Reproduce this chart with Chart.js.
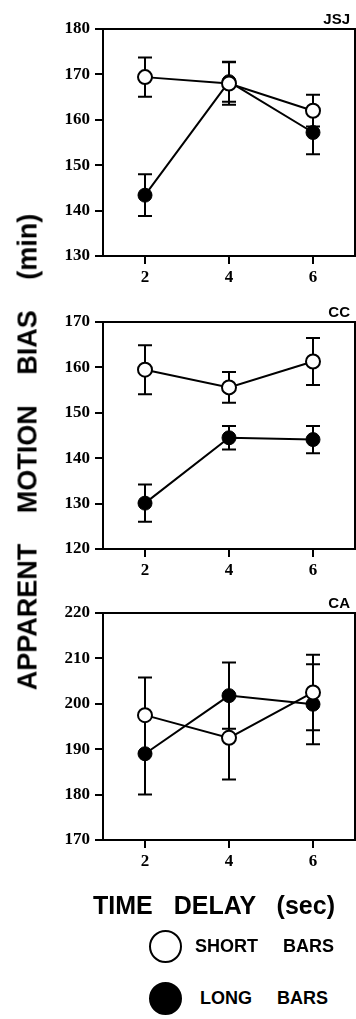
<!DOCTYPE html>
<html lang="en">
<head>
<meta charset="UTF-8" />
<title>Apparent motion bias vs time delay</title>
<script src="https://cdn.jsdelivr.net/npm/chart.js"></script>
<style>
    body { margin: 0; background: #fff; }
    #page { position: relative; width: 356px; height: 1019px; overflow: hidden; font-family: 'Liberation Sans', Arial, sans-serif; }
    .panel { position: absolute; left: 0; width: 356px; height: 300px; }
    #yTitle { position: absolute; left: 28px; top: 452px; transform: translate(-50%, -50%) rotate(-90deg);
              white-space: nowrap; font-weight: bold; font-size: 27px; word-spacing: 23px; color: #000; }
    #xTitle { position: absolute; left: 214px; top: 905px; transform: translate(-50%, -50%);
              white-space: nowrap; font-weight: bold; font-size: 25px; word-spacing: 14px; color: #000; }
    .key { position: absolute; left: 149px; height: 34px; display: flex; align-items: center;
           font-weight: bold; font-size: 18px; word-spacing: 20px; white-space: nowrap; }
    .dot { width: 29px; height: 29px; border: 2.5px solid #000; border-radius: 50%; margin-right: 13px; }
</style>
</head>
<body>
<div id="page">
    <div class="panel" style="top:0"><canvas id="jsj" width="356" height="300"></canvas></div>
    <div class="panel" style="top:293px"><canvas id="cc" width="356" height="300"></canvas></div>
    <div class="panel" style="top:584px"><canvas id="ca" width="356" height="300"></canvas></div>
    <div id="yTitle">APPARENT MOTION BIAS (min)</div>
    <div id="xTitle">TIME DELAY (sec)</div>
    <div class="key" style="top:929px"><div class="dot" style="background:#fff"></div>SHORT BARS</div>
    <div class="key" style="top:981px"><div class="dot" style="background:#000"></div><span style="margin-left:5px">LONG BARS</span></div>
</div>
<script>
// time delay (sec)
const xVals = [2, 4, 6];
const xTicks = [2, 4, 6];

// subject JSJ
const jsjShort = [169.4, 168.0, 162.0];
const jsjShortErr = [4.3, 4.7, 3.5];
const jsjLong = [143.4, 168.4, 157.2];
const jsjLongErr = [4.6, 4.4, 4.8];

// subject CC
const ccShort = [159.5, 155.6, 161.3];
const ccShortErr = [5.4, 3.4, 5.2];
const ccLong = [130.1, 144.5, 144.1];
const ccLongErr = [4.1, 2.6, 3.0];

// subject CA
const caShort = [197.5, 192.5, 202.5];
const caShortErr = [8.3, 9.2, 8.3];
const caLong = [189.0, 201.8, 199.9];
const caLongErr = [9.0, 7.3, 8.8];

// y ranges
const jsjRange = [130, 180];
const ccRange = [120, 170];
const caRange = [170, 220];

// error bars drawn under the markers
const errorBars = {
    id: 'errorBars',
    beforeDatasetsDraw(chart) {
        const ctx = chart.ctx, xs = chart.scales.x, ys = chart.scales.y;
        ctx.save();
        ctx.strokeStyle = '#000';
        ctx.lineWidth = 2;
        chart.data.datasets.forEach(ds => {
            ds.data.forEach((p, i) => {
                const e = ds.errors[i];
                const px = xs.getPixelForValue(p.x);
                const top = ys.getPixelForValue(p.y + e);
                const bot = ys.getPixelForValue(p.y - e);
                ctx.beginPath();
                ctx.moveTo(px, top); ctx.lineTo(px, bot);
                ctx.moveTo(px - 7, top); ctx.lineTo(px + 7, top);
                ctx.moveTo(px - 7, bot); ctx.lineTo(px + 7, bot);
                ctx.stroke();
            });
        });
        ctx.restore();
    }
};

// box round the plot + subject label
const frame = {
    id: 'frame',
    afterDraw(chart, args, opts) {
        const ctx = chart.ctx, a = chart.chartArea;
        ctx.save();
        ctx.strokeStyle = '#000';
        ctx.lineWidth = 2;
        ctx.strokeRect(a.left, a.top, a.right - a.left, a.bottom - a.top);
        ctx.fillStyle = '#000';
        ctx.font = 'bold 15px "Liberation Sans", Arial, sans-serif';
        ctx.textAlign = 'right';
        ctx.textBaseline = 'alphabetic';
        ctx.fillText(opts.text, a.right - 5, a.top - 5);
        ctx.restore();
    }
};

function makeChart(id, label, shortY, shortErr, longY, longErr, range) {
    const tickFont = { family: '"Liberation Serif", "Times New Roman", serif', size: 17, weight: 'bold' };
    new Chart(document.getElementById(id), {
        type: 'line',
        data: {
            datasets: [
                {
                    label: 'SHORT BARS',
                    data: xVals.map((x, i) => ({ x: x, y: shortY[i] })),
                    errors: shortErr,
                    borderColor: '#000', borderWidth: 2,
                    pointRadius: 7, pointBorderWidth: 2,
                    pointBackgroundColor: '#fff', pointBorderColor: '#000'
                },
                {
                    label: 'LONG BARS',
                    data: xVals.map((x, i) => ({ x: x, y: longY[i] })),
                    errors: longErr,
                    borderColor: '#000', borderWidth: 2,
                    pointRadius: 7, pointBorderWidth: 1,
                    pointBackgroundColor: '#000', pointBorderColor: '#000'
                }
            ]
        },
        options: {
            responsive: false,
            animation: false,
            layout: { autoPadding: false, padding: { top: 29, right: 1, left: 0, bottom: 0 } },
            plugins: {
                legend: { display: false },
                tooltip: { enabled: false },
                frame: { text: label }
            },
            scales: {
                x: {
                    type: 'linear', min: 1, max: 7,
                    afterBuildTicks: s => { s.ticks = xTicks.map(v => ({ value: v })); },
                    afterFit: s => { s.height = 44; },
                    grid: { drawOnChartArea: false, drawTicks: true, tickLength: 8, color: '#000', lineWidth: 2 },
                    border: { display: true, color: '#000', width: 2 },
                    ticks: { color: '#000', font: tickFont, padding: 3, maxRotation: 0 }
                },
                y: {
                    min: range[0], max: range[1],
                    ticks: { stepSize: 10, color: '#000', font: tickFont, padding: 5 },
                    afterFit: s => { s.width = 103; },
                    grid: { drawOnChartArea: false, drawTicks: true, tickLength: 8, color: '#000', lineWidth: 2 },
                    border: { display: true, color: '#000', width: 2 }
                }
            }
        },
        plugins: [errorBars, frame]
    });
}

makeChart('jsj', 'JSJ', jsjShort, jsjShortErr, jsjLong, jsjLongErr, jsjRange);
makeChart('cc', 'CC', ccShort, ccShortErr, ccLong, ccLongErr, ccRange);
makeChart('ca', 'CA', caShort, caShortErr, caLong, caLongErr, caRange);
</script>
</body>
</html>
